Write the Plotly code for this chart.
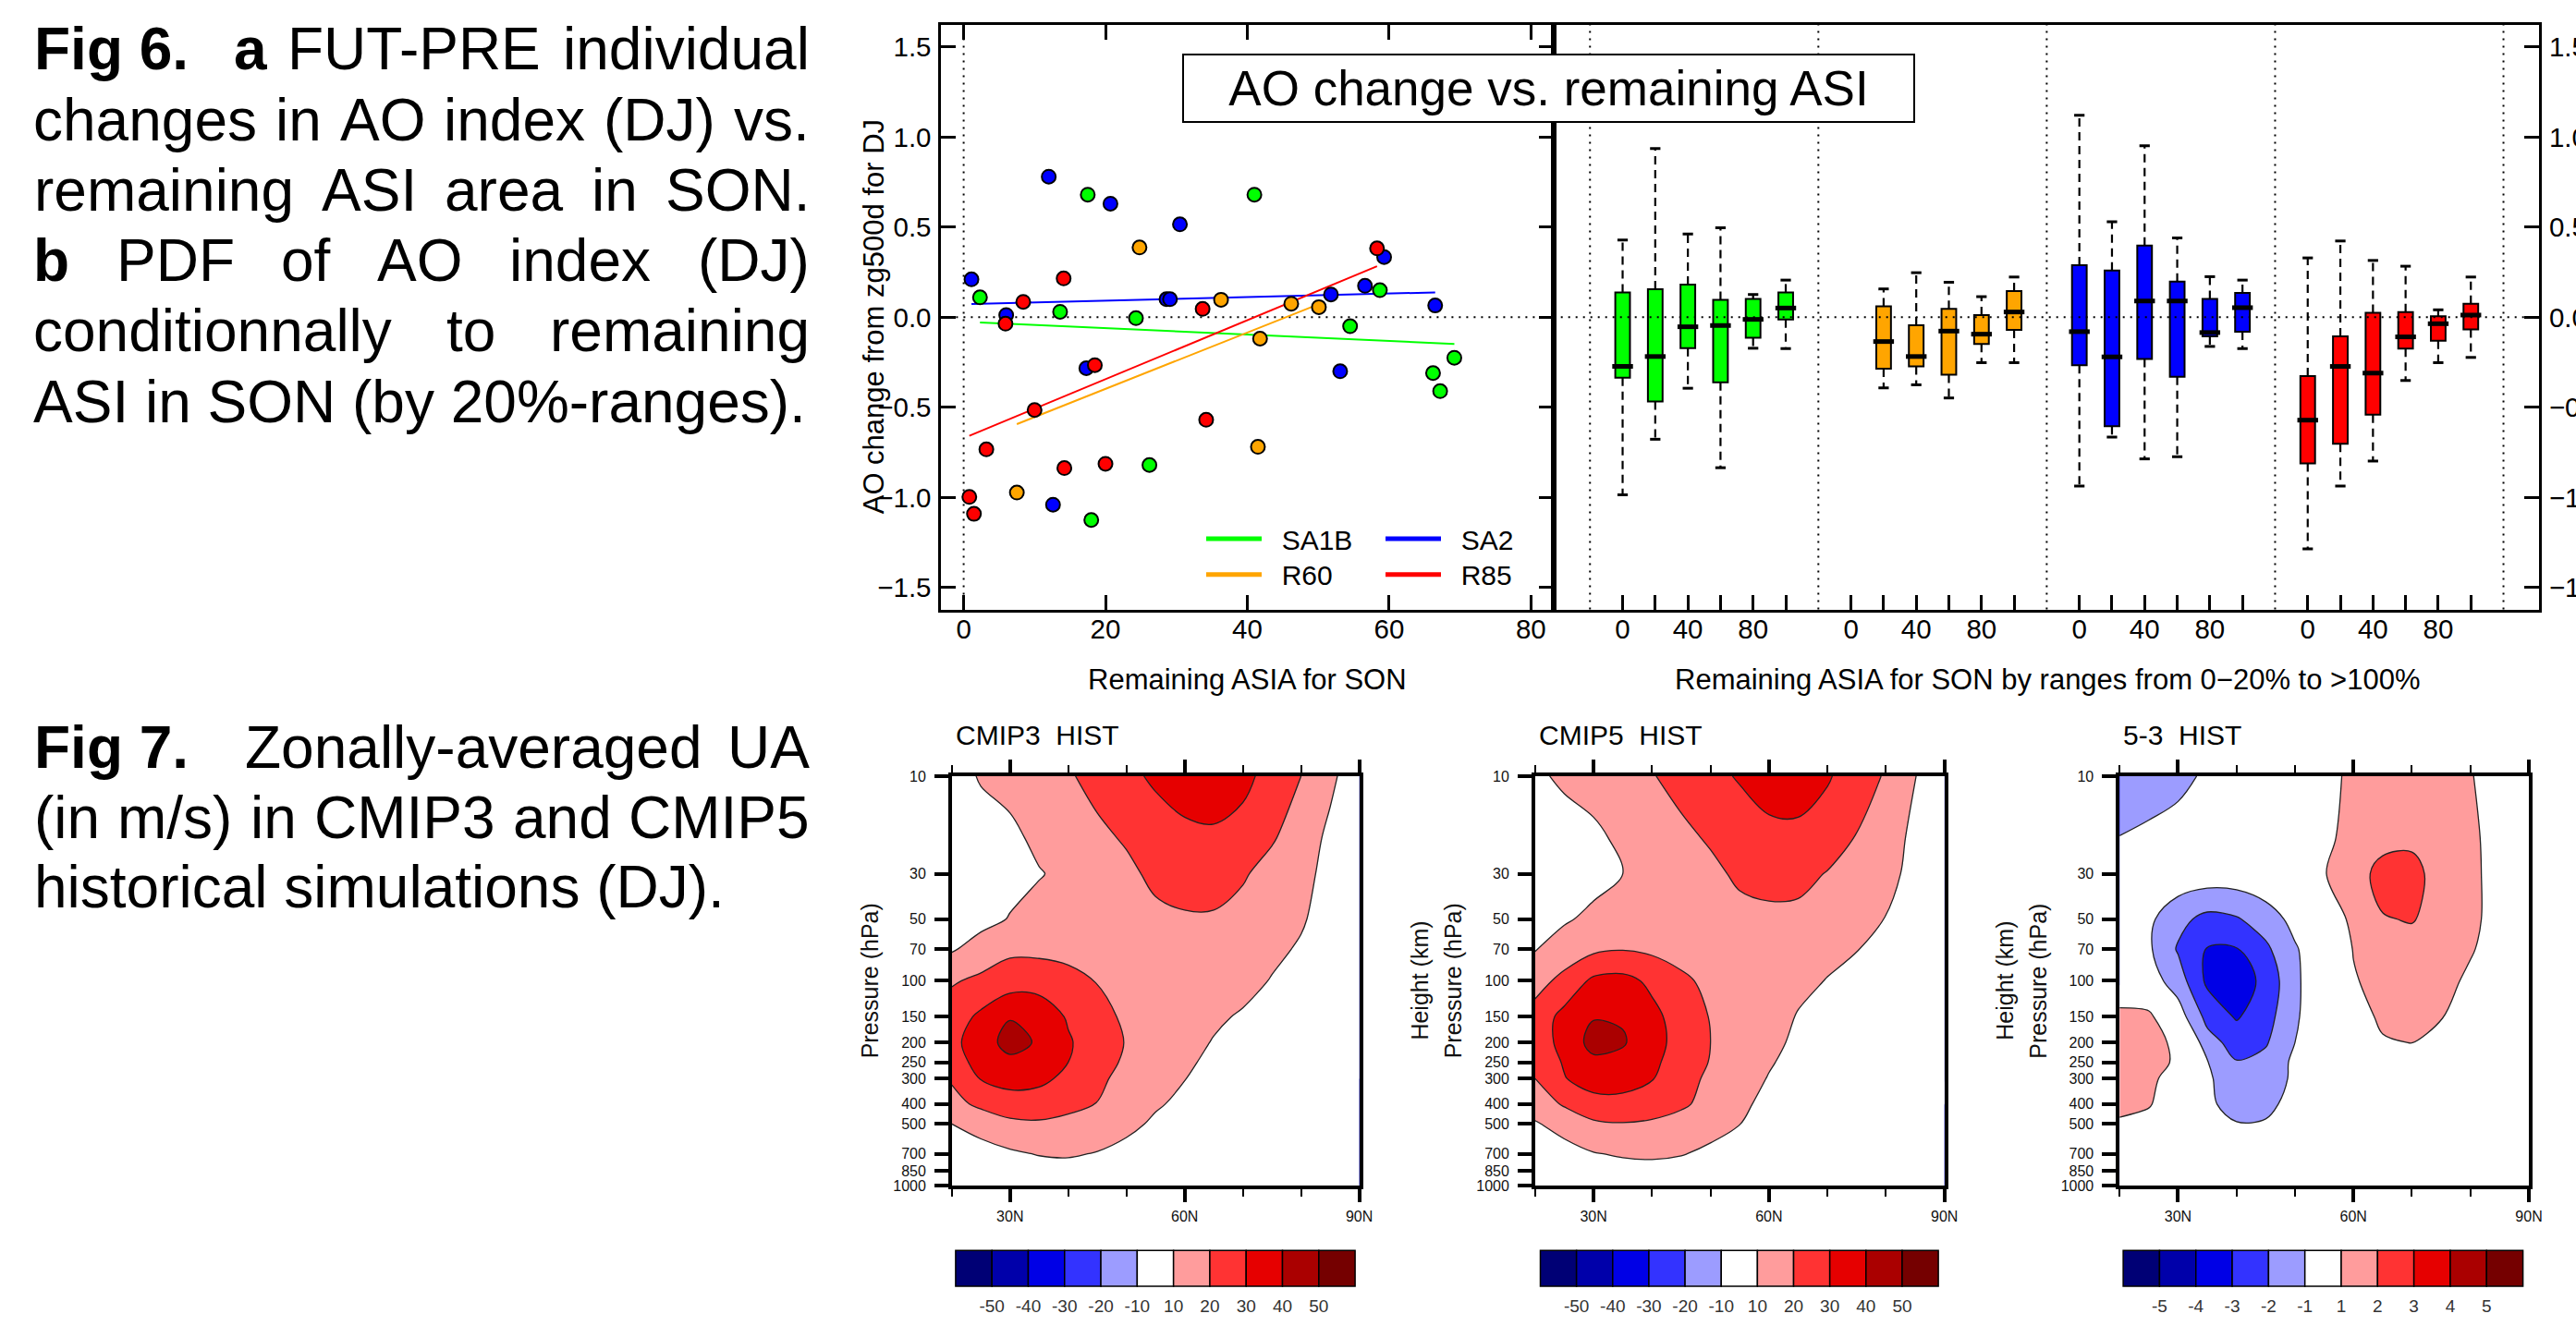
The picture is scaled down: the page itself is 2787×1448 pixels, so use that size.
import numpy as np
import plotly.graph_objects as go

W, H = 2787, 1448
FONT = "Liberation Sans, Arial, Helvetica, sans-serif"


def xp(v):
    return v / W


def yp(v):
    return 1 - v / H


# ---------------- Fig 6a : individual model changes ----------------
SA1B_x = [2.3, 17.5, 13.6, 24.3, 41.0, 54.5, 58.7, 66.2, 67.2, 69.2, 26.2, 18.0]
SA1B_y = [0.11, 0.68, 0.03, -0.005, 0.68, -0.05, 0.15, -0.31, -0.41, -0.225, -0.82, -1.125]
SA2_x = [1.1, 12.0, 20.7, 30.5, 6.0, 28.6, 29.1, 51.8, 56.6, 59.3, 66.5, 53.1, 17.3, 12.6]
SA2_y = [0.21, 0.78, 0.63, 0.515, 0.012, 0.10, 0.10, 0.126, 0.174, 0.334, 0.065, -0.30, -0.283, -1.04]
R60_x = [24.8, 36.3, 46.2, 50.1, 41.8, 41.5, 7.5]
R60_y = [0.387, 0.097, 0.075, 0.056, -0.119, -0.719, -0.973]
R85_x = [0.8, 1.45, 3.2, 5.9, 8.4, 10.0, 14.1, 14.2, 18.5, 20.0, 33.7, 34.2, 58.3]
R85_y = [-0.997, -1.091, -0.733, -0.036, 0.085, -0.515, 0.215, -0.837, -0.266, -0.813, 0.046, -0.569, 0.382]

scenario_names = ["SA1B", "SA2", "R60", "R85"]
scenario_colors = ["#00FF00", "#0000FF", "#FFA500", "#FF0000"]
trend_slopes = [-0.00178, 0.00099, 0.01563, 0.01636]
trend_intercepts = [-0.0249, 0.0719, -0.7103, -0.6708]

# ---------------- Fig 6b : box plots by 20%-ranges ----------------
box_groups = ["SA1B", "R60", "SA2", "R85"]
box_colors = ["#00FF00", "#FFA500", "#0000FF", "#FF0000"]
box_slots = [[0, 1, 2, 3, 4, 5], [1, 2, 3, 4, 5], [0, 1, 2, 3, 4, 5], [0, 1, 2, 3, 4, 5]]
box_upper = [[0.428, 0.936, 0.462, 0.496, 0.126, 0.206],
             [0.157, 0.247, 0.194, 0.114, 0.223],
             [1.120, 0.530, 0.951, 0.440, 0.225, 0.206],
             [0.329, 0.423, 0.315, 0.283, 0.041, 0.223]]
box_q3 = [[0.138, 0.155, 0.181, 0.097, 0.102, 0.138],
          [0.060, -0.044, 0.046, 0.012, 0.145],
          [0.288, 0.259, 0.397, 0.198, 0.102, 0.135],
          [-0.327, -0.106, 0.024, 0.029, 0.005, 0.075]]
box_median = [[-0.273, -0.218, -0.053, -0.046, -0.012, 0.051],
              [-0.135, -0.218, -0.077, -0.094, 0.029],
              [-0.080, -0.220, 0.090, 0.090, -0.085, 0.053],
              [-0.571, -0.273, -0.310, -0.109, -0.036, 0.012]]
box_q1 = [[-0.336, -0.467, -0.172, -0.361, -0.114, -0.012],
          [-0.286, -0.273, -0.319, -0.148, -0.070],
          [-0.266, -0.605, -0.232, -0.331, -0.106, -0.080],
          [-0.811, -0.702, -0.540, -0.174, -0.131, -0.068]]
box_lower = [[-0.985, -0.677, -0.394, -0.835, -0.172, -0.174],
             [-0.392, -0.375, -0.448, -0.252, -0.252],
             [-0.936, -0.665, -0.786, -0.774, -0.162, -0.174],
             [-1.285, -0.936, -0.798, -0.351, -0.252, -0.223]]
range_labels = ["0", "", "40", "", "80", ""]
SLOT_STEP = 20
GROUP_STEP = 140

# ---------------- Fig 7 : zonal-mean zonal wind ----------------
LATS = [20, 25, 30, 35, 40, 45, 50, 55, 60, 65, 70, 75, 80, 85, 90]
PRESSURE = [10, 20, 30, 50, 70, 100, 150, 200, 250, 300, 400, 500, 700, 850, 1000]
U_CMIP3 = [
    [5, 11, 13, 15, 19, 23, 27, 32, 36, 37, 33, 26, 20, 12, 4],
    [3, 5, 8, 12, 15, 18, 21, 24, 27, 28, 26, 21, 15, 8, 3],
    [2, 4, 7, 9.5, 12, 15, 18, 22, 24, 24, 21, 16.5, 13, 7, 2],
    [5, 7, 10.5, 13, 14, 15, 16, 18, 19, 19, 17, 14, 11, 6, 2],
    [9, 14, 18, 17.5, 16, 15, 15, 15, 15, 14.5, 13.5, 12, 9, 4, 1],
    [19, 22, 25, 26, 24, 19.5, 17, 16, 15, 14, 13, 9.5, 6, 3, 1],
    [25, 32, 39.5, 36, 29, 24, 18, 15, 13, 11.5, 9, 6, 4, 2, 1],
    [27, 36, 43, 39, 31, 25, 19.5, 16, 13, 9.5, 7, 5, 3, 2, 1],
    [26, 33, 38, 36, 30, 24, 18.5, 15, 11.5, 8, 6, 4, 3, 2, 1],
    [21, 30.5, 34, 33, 27, 22, 17, 13, 10.2, 7, 5, 3, 2, 1, 0],
    [17, 22, 25, 24, 22, 19.8, 15, 11, 8, 5, 3, 2, 1, 0, 0],
    [10, 14, 18, 19, 18, 16, 12.5, 8.5, 6, 4, 2, 1, 0, 0, 0],
    [4, 6, 8.5, 10.5, 11, 9.5, 7, 5, 3, 2, 1, 0, 0, 0, 0],
    [2, 3, 5, 6, 6.5, 6, 4, 3, 2, 1, 0.5, 0, 0, 0, 0],
    [0, 1, 2, 3, 3, 2.5, 2, 1, 0, 0, 0, 0, 0, 0, 0],
]
U_CMIP5 = [
    [8, 12, 14, 16, 19.5, 23, 27, 31, 35, 35, 31, 25, 19, 10.2, 4],
    [3, 5, 8, 12, 15, 18, 21, 24, 27, 27.5, 25, 19.5, 14, 8, 3],
    [2, 4, 7, 10, 12, 15, 18, 21.5, 23, 23, 19.5, 16, 13, 7, 2],
    [6, 9, 12, 13.5, 14, 15, 16, 17.5, 18, 17.5, 16, 13.5, 9.7, 5, 1],
    [9.5, 14, 18, 19.5, 18, 16, 15.5, 15, 14.5, 13.5, 12, 10.3, 7, 3.5, 1],
    [16, 23, 32, 33, 28, 22, 17.5, 15.5, 14, 12, 9.7, 7, 4, 2, 0.5],
    [24, 33, 39.5, 39, 32.5, 26, 19.5, 16, 13.5, 9.5, 7, 5, 3, 1, 0],
    [23, 34, 43, 41, 33.5, 26.5, 20, 16, 12, 8.5, 6, 4, 2.5, 1, 0],
    [22, 31, 38, 37, 32, 25.5, 19.5, 15, 10.7, 7.5, 5, 3.5, 2, 1, 0],
    [20, 29.5, 35, 34, 30.5, 24, 18, 13.5, 9.6, 6.5, 4.5, 3, 2, 1, 0],
    [15, 21, 26, 27, 25, 21.5, 17, 11.5, 8, 5.5, 3.5, 2, 1, 0.5, 0],
    [9, 14, 18.5, 19.5, 18.5, 16.5, 13.5, 10.1, 7, 4.5, 2.5, 1, 0.5, 0, 0],
    [4, 6, 9.5, 11, 11.5, 10.5, 8, 5.5, 3.5, 2, 1, 0.5, 0, 0, 0],
    [2, 3, 5, 6.5, 7, 6, 4.5, 3, 2, 1, 0.5, 0, 0, 0, 0],
    [0, 1, 2, 3, 3, 2.5, 2, 1, 0.5, 0, 0, 0, 0, 0, 0],
]
U_DIFF = [
    [-1.9, -1.75, -1.35, -0.8, -0.4, 0, 0.3, 0.7, 1.2, 1.5, 1.6, 1.5, 1.05, 0.6, 0.3],
    [-0.97, -0.7, -0.5, -0.3, -0.2, 0, 0.3, 0.8, 1.3, 1.7, 1.8, 1.6, 1.2, 0.6, 0.3],
    [-0.3, -0.3, -0.3, -0.4, -0.4, -0.2, 0.2, 0.95, 1.6, 2.3, 2.3, 1.6, 1.3, 0.5, 0.2],
    [-0.3, -0.8, -1.7, -2.3, -2.1, -1.5, -0.7, 0.4, 1.2, 1.95, 2.05, 1.7, 1.3, 0.5, 0.2],
    [-0.3, -0.85, -2.1, -3.05, -3.05, -2.2, -1.1, -0.3, 1.05, 1.6, 1.7, 1.5, 1.1, 0.5, 0.2],
    [-0.2, -0.5, -1.5, -3.2, -3.6, -2.7, -1.2, -0.2, 0.9, 1.4, 1.5, 1.35, 0.8, 0.4, 0.2],
    [1.4, 1.3, -0.5, -2.3, -3.1, -2.4, -1.15, -0.2, 0.5, 1.2, 1.4, 1.05, 0.5, 0.2, 0.1],
    [1.7, 1.5, 0.7, -1.6, -2.4, -2.1, -1.0, -0.3, 0.2, 0.9, 1.02, 0.6, 0.3, 0.1, 0],
    [1.7, 1.5, 0.8, -0.95, -1.95, -1.7, -0.8, -0.2, 0, 0.2, 0.3, 0.2, 0.1, 0, 0],
    [1.6, 1.3, 0.4, -0.85, -1.6, -1.6, -0.8, -0.2, 0, 0.1, 0.1, 0.1, 0, 0, 0],
    [1.4, 1.1, 0.2, -0.8, -1.4, -1.3, -0.6, -0.1, 0, 0, 0, 0, 0, 0, 0],
    [0.8, 0.6, 0.1, -0.5, -0.95, -0.9, -0.5, -0.1, 0, 0, 0, 0, 0, 0, 0],
    [0.3, 0.2, 0, -0.3, -0.5, -0.4, -0.2, 0, 0, 0, 0, 0, 0, 0, 0],
    [0.2, 0.1, 0, -0.2, -0.3, -0.2, -0.1, 0, 0, 0, 0, 0, 0, 0, 0],
    [0.1, 0.1, 0, -0.1, -0.2, -0.1, 0, 0, 0, 0, 0, 0, 0, 0, 0],
]
LEVELS_U = [-50, -40, -30, -20, -10, 10, 20, 30, 40, 50]
LEVELS_DIFF = [-5, -4, -3, -2, -1, 1, 2, 3, 4, 5]
CBAR_COLORS = ["#000075", "#0000AA", "#0000E6", "#3333FF", "#9C9CFF", "#FFFFFF",
               "#FF9C9C", "#FF3333", "#E60000", "#AA0000", "#750000"]
P_TICKS = [10, 30, 50, 70, 100, 150, 200, 250, 300, 400, 500, 700, 850, 1000]
HEIGHT_TICKS_KM = [4, 8, 12, 16, 20, 24, 28]
LAT_MAJOR = [30, 60, 90]
LAT_MINOR = [20, 40, 50, 70, 80]
panel_titles = ["CMIP3\u00a0 HIST", "CMIP5\u00a0 HIST", "5-3\u00a0 HIST"]


def std_atm_pressure(z_km):
    """US standard atmosphere pressure (hPa) at height z (km)."""
    zm = z_km * 1000.0
    if zm <= 11000:
        return 1013.25 * (1 - 2.25577e-5 * zm) ** 5.25588
    if zm <= 20000:
        return 226.32 * np.exp(-(zm - 11000) / 6341.62)
    return 54.7489 * (1 + (zm - 20000) / 216650.0) ** (-34.1632)


fig = go.Figure()

# ---------------- scatter panel ----------------
scatter_x = [SA1B_x, SA2_x, R60_x, R85_x]
scatter_y = [SA1B_y, SA2_y, R60_y, R85_y]
for name, col, xs, slope, icpt in zip(scenario_names, scenario_colors, scatter_x,
                                      trend_slopes, trend_intercepts):
    tx = [min(xs), max(xs)]
    fig.add_trace(go.Scatter(x=tx, y=[icpt + slope * v for v in tx], mode="lines",
                             line=dict(color=col, width=2), showlegend=False,
                             hoverinfo="skip", xaxis="x", yaxis="y"))
for name, col, xs, ys in zip(scenario_names, scenario_colors, scatter_x, scatter_y):
    fig.add_trace(go.Scatter(x=xs, y=ys, mode="markers",
                             marker=dict(size=15, color=col, line=dict(color="black", width=2)),
                             showlegend=False, hoverinfo="skip", xaxis="x", yaxis="y"))
legend_of = {"SA1B": "legend", "SA2": "legend2", "R60": "legend3", "R85": "legend4"}
for name, col in zip(scenario_names, scenario_colors):
    fig.add_trace(go.Scatter(x=[None], y=[None], mode="lines", name="\u00a0\u00a0" + name,
                             line=dict(color=col, width=5), legend=legend_of[name],
                             showlegend=True, hoverinfo="skip", xaxis="x", yaxis="y"))

# ---------------- box panel ----------------
box_tickvals, box_ticktext = [], []
for g in range(len(box_groups)):
    for k, lab in enumerate(range_labels):
        box_tickvals.append(g * GROUP_STEP + k * SLOT_STEP)
        box_ticktext.append(lab)

for g, (col, slots) in enumerate(zip(box_colors, box_slots)):
    pos = [g * GROUP_STEP + k * SLOT_STEP for k in slots]
    wx, wy = [], []
    for p, lo, q1, q3, hi in zip(pos, box_lower[g], box_q1[g], box_q3[g], box_upper[g]):
        wx += [p, p, None, p, p, None]
        wy += [q3, hi, None, q1, lo, None]
    fig.add_trace(go.Scatter(x=wx, y=wy, mode="lines",
                             line=dict(color="black", width=2.2, dash="9px,6px"),
                             showlegend=False, hoverinfo="skip", xaxis="x2", yaxis="y2"))
    fig.add_trace(go.Scatter(x=pos + pos, y=box_upper[g] + box_lower[g], mode="markers",
                             marker=dict(symbol="line-ew", size=8, color="black",
                                         line=dict(color="black", width=3)),
                             showlegend=False, hoverinfo="skip", xaxis="x2", yaxis="y2"))
    fig.add_trace(go.Bar(x=pos, y=[b - a for a, b in zip(box_q1[g], box_q3[g])], base=box_q1[g],
                         width=9, marker=dict(color=col, line=dict(color="black", width=2)),
                         showlegend=False, hoverinfo="skip", xaxis="x2", yaxis="y2"))
    fig.add_trace(go.Scatter(x=pos, y=box_median[g], mode="markers",
                             marker=dict(symbol="line-ew", size=16, color="black",
                                         line=dict(color="black", width=5)),
                             showlegend=False, hoverinfo="skip", xaxis="x2", yaxis="y2"))

# ---------------- contour panels ----------------
logp = [float(np.log10(p)) for p in PRESSURE]
band_colors = CBAR_COLORS[:6] + ["#FFFFFF"] + CBAR_COLORS[6:]
band_scale = [[k / (len(band_colors) - 1), c] for k, c in enumerate(band_colors)]

panel_fields = [U_CMIP3, U_CMIP5, U_DIFF]
panel_levels = [LEVELS_U, LEVELS_U, LEVELS_DIFF]
panel_left = [1029.8, 1660.8, 2293.2]
panel_right = [1470.6, 2103.7, 2736.0]
cbar_left = [1033.9, 1666.5, 2297.1]
cbar_right = [1466.1, 2097.1, 2729.6]
PTOP, PBOT = 839.9, 1283.0

for i, (field, levels) in enumerate(zip(panel_fields, panel_levels)):
    xa, ya = "x%d" % (3 + 2 * i), "y%d" % (3 + 2 * i)
    step = levels[1] - levels[0]
    fig.add_trace(go.Contour(x=LATS, y=logp, z=field, xaxis=xa, yaxis=ya,
                             autocontour=False, showlegend=False,
                             contours=dict(start=levels[0], end=levels[-1], size=step,
                                           coloring="fill", showlines=False),
                             colorscale=band_scale, showscale=False,
                             line=dict(width=0, smoothing=1), hoverinfo="skip"))
    for lo, hi in [(levels[0], levels[4]), (levels[5], levels[-1])]:
        fig.add_trace(go.Contour(x=LATS, y=logp, z=field, xaxis=xa, yaxis=ya,
                                 autocontour=False, showlegend=False,
                                 contours=dict(start=lo, end=hi, size=step, coloring="none"),
                                 showscale=False,
                                 line=dict(color="#222222", width=1.3, smoothing=1),
                                 hoverinfo="skip"))
    # colour bar (one box per contour interval)
    cx, cy = "x%d" % (9 + i), "y%d" % (9 + i)
    nb = len(levels) + 1
    fig.add_trace(go.Bar(x=list(range(nb)), y=[1] * nb, width=1, xaxis=cx, yaxis=cy,
                         marker=dict(color=CBAR_COLORS, line=dict(color="black", width=1.5)),
                         showlegend=False, hoverinfo="skip"))

# ---------------- layout ----------------
tick_font = dict(size=29.5, color="black", family=FONT)
legend_common = dict(orientation="v", font=dict(size=30, family=FONT), itemwidth=60,
                     bgcolor="rgba(0,0,0,0)", borderwidth=0, tracegroupgap=0,
                     xanchor="left", yanchor="middle")
top_axis = dict(showline=True, linewidth=3, linecolor="black", showgrid=False,
                zeroline=False, tickfont=tick_font, ticks="inside", ticklen=16,
                tickwidth=3, tickcolor="black", automargin=False)
layout = dict(
    template="none",
    width=W, height=H, autosize=False, margin=dict(l=0, r=0, t=0, b=0, pad=0),
    paper_bgcolor="white", plot_bgcolor="rgba(0,0,0,0)",
    font=dict(family=FONT, color="black"),
    barmode="overlay", hovermode=False,
    xaxis=dict(domain=[xp(1018.4), xp(1680.7)], range=[-3.155, 83.18], anchor="y",
               tickvals=[0, 20, 40, 60, 80], mirror="ticks", ticklabelstandoff=-7,
               **top_axis),
    yaxis=dict(domain=[yp(659.5), yp(27.1)], range=[-1.621, 1.621], anchor="x",
               tickvals=[-1.5, -1.0, -0.5, 0.0, 0.5, 1.0, 1.5], tickformat=".1f",
               mirror="ticks", ticklabelstandoff=2, **top_axis),
    xaxis2=dict(domain=[xp(1680.7), xp(2747)], range=[-42.4, 561.8], anchor="y2",
                tickvals=box_tickvals, ticktext=box_ticktext, mirror=True,
                ticklabelstandoff=-7, **top_axis),
    yaxis2=dict(domain=[yp(659.5), yp(27.1)], range=[-1.621, 1.621], anchor="x2",
                side="right", tickvals=[-1.5, -1.0, -0.5, 0.0, 0.5, 1.0, 1.5],
                tickformat=".1f", mirror=True, ticklabelstandoff=2, **top_axis),
    legend=dict(x=xp(1300), y=yp(583), **legend_common),
    legend2=dict(x=xp(1494), y=yp(583), **legend_common),
    legend3=dict(x=xp(1300), y=yp(621.7), **legend_common),
    legend4=dict(x=xp(1494), y=yp(621.7), **legend_common),
)

small_font = dict(size=16, color="#111111", family=FONT)
for i in range(3):
    xn, yn, hn = 3 + 2 * i, 3 + 2 * i, 4 + 2 * i
    layout["xaxis%d" % xn] = dict(
        domain=[xp(panel_left[i]), xp(panel_right[i])], range=[20, 90], anchor="y%d" % yn,
        tickvals=LAT_MAJOR, ticktext=["%dN" % v for v in LAT_MAJOR], ticks="outside",
        ticklen=14, tickwidth=3.5, tickcolor="black",
        minor=dict(tickmode="array", tickvals=LAT_MINOR, ticks="outside", ticklen=8,
                   tickwidth=1.5, tickcolor="black", showgrid=False),
        showline=True, linewidth=3.5, linecolor="black", mirror="ticks", automargin=False,
        showgrid=False, zeroline=False, tickfont=small_font, ticklabelstandoff=2)
    layout["yaxis%d" % yn] = dict(
        domain=[yp(PBOT), yp(PTOP)], range=[3, 1], anchor="x%d" % xn,
        tickvals=[float(np.log10(p)) for p in P_TICKS], ticktext=[str(p) for p in P_TICKS],
        ticks="outside", ticklen=15, tickwidth=3.5, tickcolor="black", automargin=False,
        showline=True, linewidth=3.5, linecolor="black", mirror=True,
        showgrid=False, zeroline=False, tickfont=small_font, ticklabelstandoff=6)
    layout["yaxis%d" % hn] = dict(
        overlaying="y%d" % yn, anchor="x%d" % xn, side="right", range=[3, 1],
        tickvals=[float(np.log10(std_atm_pressure(z))) for z in HEIGHT_TICKS_KM],
        ticktext=[str(z) for z in HEIGHT_TICKS_KM], ticks="outside", ticklen=15,
        tickwidth=3.5, tickcolor="black", showline=False, showgrid=False, automargin=False,
        zeroline=False, tickfont=small_font, ticklabelstandoff=6)
    levels = panel_levels[i]
    nb = len(levels) + 1
    pad = 0.05
    unit = (cbar_right[i] - cbar_left[i]) / nb
    layout["xaxis%d" % (9 + i)] = dict(
        domain=[xp(cbar_left[i] - pad * unit), xp(cbar_right[i] + pad * unit)],
        range=[-0.5 - pad, nb - 0.5 + pad], anchor="y%d" % (9 + i),
        tickvals=[k + 0.5 for k in range(len(levels))], ticktext=[str(v) for v in levels],
        ticks="", showline=False, showgrid=False, zeroline=False, automargin=False,
        tickfont=dict(size=19, color="#333333", family=FONT), ticklabelstandoff=6)
    hcb = 1391.9 - 1353.2
    layout["yaxis%d" % (9 + i)] = dict(
        domain=[yp(1391.9 + pad * hcb), yp(1353.2 - pad * hcb)], range=[-pad, 1 + pad],
        anchor="x%d" % (9 + i), visible=False, automargin=False)

fig.update_layout(**layout)

# ---------------- reference lines ----------------
dot = dict(color="black", width=2, dash="2px,6px")
fig.add_shape(type="line", xref="x", yref="y domain", x0=0, x1=0, y0=0, y1=1, line=dot, layer="below")
fig.add_shape(type="line", xref="x domain", yref="y", x0=0, x1=1, y0=0, y1=0, line=dot, layer="below")
fig.add_shape(type="line", xref="x2 domain", yref="y2", x0=0, x1=1, y0=0, y1=0, line=dot, layer="above")
for g in range(len(box_groups) + 1):
    sep = g * GROUP_STEP - SLOT_STEP
    fig.add_shape(type="line", xref="x2", yref="y2 domain", x0=sep, x1=sep, y0=0, y1=1,
                  line=dot, layer="below")

# ---------------- text ----------------
def ann(x, y, text, size, anchor="center", angle=0, color="black", yanchor="middle", **kw):
    fig.add_annotation(x=xp(x), y=yp(y), xref="paper", yref="paper", text=text,
                       showarrow=False, xanchor=anchor, yanchor=yanchor, textangle=angle,
                       font=dict(size=size, color=color, family=FONT), borderpad=0,
                       borderwidth=0, **kw)


ann(1349.5, 735, "Remaining ASIA for SON", 31)
ann(2214.9, 735, "Remaining ASIA for SON by ranges from 0\u221220% to >100%", 31)
ann(945.0, 343.3, "AO change from zg500d for DJ", 31, angle=-90)
fig.add_annotation(x=xp(1675.5), y=yp(95.5), xref="paper", yref="paper",
                   text="AO change vs. remaining ASI", showarrow=False, xanchor="center",
                   yanchor="middle", width=789, height=71, bgcolor="white",
                   bordercolor="black", borderwidth=2, borderpad=0,
                   font=dict(size=53, color="black", family=FONT))

for i in range(3):
    ann(panel_left[i] + 4, 795.5, panel_titles[i], 30, anchor="left")
    ann(panel_left[i] - 89, 1061.5, "Pressure (hPa)", 25, angle=-90, color="#111111")
    if i < 2:
        ann(panel_right[i] + 64.5, 1061.5, "Height (km)", 25, angle=-90, color="#111111")

# justified caption: words placed at their left edges; the last word of a
# justified line is aligned on the right margin (x = None below)
CAP = 64
RIGHT_MARGIN = 876
caption_lines = [
    (75.0, [(37, "<b>Fig 6.</b>"), (253, "<b>a</b>"), (311, "FUT-PRE"), (None, "individual")]),
    (151.7, [(36, "changes"), (298, "in"), (368, "AO"), (480, "index"), (653, "(DJ)"), (None, "vs.")]),
    (228.3, [(37, "remaining"), (348, "ASI"), (481, "area"), (640, "in"), (None, "SON.")]),
    (304.0, [(36, "<b>b</b>"), (126, "PDF"), (304, "of"), (408, "AO"), (551, "index"), (None, "(DJ)")]),
    (380.0, [(36, "conditionnally"), (483, "to"), (None, "remaining")]),
    (456.7, [(36, "ASI in SON (by 20%-ranges).")]),
    (830.7, [(37, "<b>Fig 7.</b>"), (265, "Zonally-averaged"), (None, "UA")]),
    (906.7, [(37, "(in"), (127, "m/s)"), (271, "in"), (340, "CMIP3"), (555, "and"), (None, "CMIP5")]),
    (981.7, [(37, "historical simulations (DJ).")]),
]
for base, words in caption_lines:
    for x, t in words:
        if x is None:
            ann(RIGHT_MARGIN, base - 0.3465 * CAP, t, CAP, anchor="right")
        else:
            ann(x, base - 0.3465 * CAP, t, CAP, anchor="left")

fig.write_html("out.html", config={"displayModeBar": False, "responsive": False})
